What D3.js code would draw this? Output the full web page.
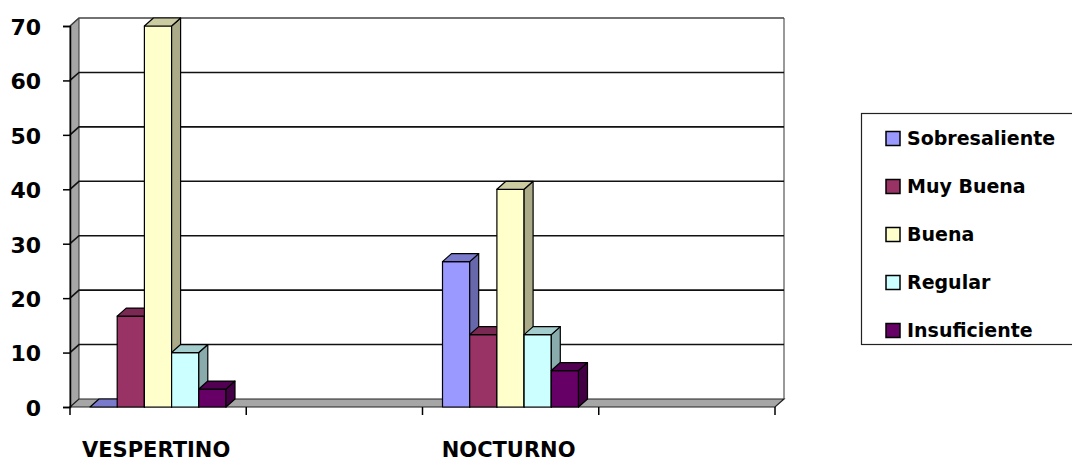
<!DOCTYPE html>
<html>
<head>
<meta charset="utf-8">
<script src="https://cdn.jsdelivr.net/npm/d3@7"></script>
<style>
  html, body { margin: 0; padding: 0; background: #fff; }
  svg { display: block; font-family: "DejaVu Sans", sans-serif; font-weight: bold; }
</style>
</head>
<body>
<svg id="chart" width="1072" height="463"></svg>
<script>
// ---- data ----
const categories = ["VESPERTINO", "", "NOCTURNO", ""];
const series = ["Sobresaliente", "Muy Buena", "Buena", "Regular", "Insuficiente"];
const vespertino = [0, 16.7, 70, 10, 3.3];
const nocturno = [26.7, 13.3, 40, 13.3, 6.7];
const yTicks = [0, 10, 20, 30, 40, 50, 60, 70];
const seriesColors = ["#9999FF", "#993366", "#FFFFCC", "#CCFFFF", "#660066"];

const groupValues = [vespertino, null, nocturno, null];

// ---- layout ----
const svg = d3.select("#chart");
const DX = 9, DY = 8;
const x = d3.scaleBand().domain(d3.range(categories.length)).range([70, 775]).padding(0);
const x1 = d3.scaleBand().domain(series).range([20, 156]).padding(0);
const y = d3.scaleLinear().domain([0, 70]).range([407, 26]);
const y0 = y(0);
const xL = x.range()[0], xR = x.range()[1];

function shade(c, k) {
  const r = d3.rgb(c);
  return d3.rgb(r.r * k, r.g * k, r.b * k).formatHex();
}

// back wall
svg.append("rect")
  .attr("x", xL + DX).attr("y", y(70) - DY)
  .attr("width", xR - xL).attr("height", y0 - y(70))
  .attr("fill", "#fff");
svg.append("line")
  .attr("x1", xR + DX).attr("x2", xR + DX)
  .attr("y1", y(70) - DY).attr("y2", y0 - DY)
  .attr("stroke", "#999").attr("stroke-width", 2);

// side wall
svg.append("path")
  .attr("d", `M${xL},${y0}L${xL},${y(70)}L${xL + DX},${y(70) - DY}L${xL + DX},${y0 - DY}Z`)
  .attr("fill", "#A6A6A6").attr("stroke", "#333").attr("stroke-width", 1);

// gridlines (back + side)
const grid = svg.append("g");
yTicks.filter(t => t > 0).forEach(t => {
  grid.append("path")
    .attr("d", `M${xL},${y(t)}L${xL + DX},${y(t) - DY}L${xR + DX},${y(t) - DY}`)
    .attr("fill", "none")
    .attr("stroke", t === 70 ? "#444" : "#111")
    .attr("stroke-width", 1.6);
});

// floor
svg.append("path")
  .attr("d", `M${xL},${y0}L${xR},${y0}L${xR + DX},${y0 - DY}L${xL + DX},${y0 - DY}Z`)
  .attr("fill", "#A6A6A6").attr("stroke", "#222").attr("stroke-width", 1.2);

// bars
const bars = svg.append("g");
groupValues.forEach((vals, gi) => {
  if (!vals) return;
  vals.forEach((v, si) => {
    const bx = x(gi) + x1(series[si]);
    const w = x1.bandwidth();
    const yt = y(v);
    const c = seriesColors[si];
    const g = bars.append("g").attr("stroke", "#000").attr("stroke-width", 1.2).attr("stroke-linejoin", "round");
    if (v > 0) {
      g.append("rect").attr("x", bx).attr("y", yt).attr("width", w).attr("height", y0 - yt).attr("fill", c);
      g.append("path")
        .attr("d", `M${bx + w},${yt}L${bx + w + DX},${yt - DY}L${bx + w + DX},${y0 - DY}L${bx + w},${y0}Z`)
        .attr("fill", shade(c, 0.67));
    }
    g.append("path")
      .attr("d", `M${bx},${yt}L${bx + DX},${yt - DY}L${bx + w + DX},${yt - DY}L${bx + w},${yt}Z`)
      .attr("fill", shade(c, 0.8));
  });
});

// y axis
const yAxis = svg.append("g")
  .attr("transform", `translate(${xL},0)`)
  .call(d3.axisLeft(y).tickValues(yTicks).tickSize(7).tickPadding(22).tickFormat(d3.format("d")));
yAxis.select(".domain").attr("stroke", "#000").attr("stroke-width", 1.5);
yAxis.selectAll(".tick line").attr("stroke", "#000").attr("stroke-width", 1.5);
yAxis.selectAll(".tick text")
  .attr("font-family", "DejaVu Sans").attr("font-weight", "bold")
  .attr("font-size", 22).attr("fill", "#000").attr("dy", "0.38em");

// x axis: boundary ticks + labels
const xAxis = svg.append("g").attr("transform", `translate(0,${y0})`);
const bounds = x.domain().map(d => x(d)).concat([xR]);
xAxis.selectAll("line.b").data(bounds).join("line")
  .attr("x1", d => d).attr("x2", d => d).attr("y1", 0).attr("y2", 8)
  .attr("stroke", "#000").attr("stroke-width", 1.5);
xAxis.selectAll("text").data(x.domain()).join("text")
  .attr("x", d => x(d) + x.bandwidth() / 2 - 2)
  .attr("y", 50)
  .attr("text-anchor", "middle")
  .attr("font-size", 21).attr("fill", "#000")
  .text(d => categories[d]);

// legend
const legend = svg.append("g");
legend.append("rect")
  .attr("x", 861.5).attr("y", 113.5).attr("width", 230).attr("height", 231)
  .attr("fill", "#fff").attr("stroke", "#222").attr("stroke-width", 1.2);
series.forEach((s, i) => {
  const cy = 138.5 + i * 48;
  legend.append("rect")
    .attr("x", 886).attr("y", cy - 7).attr("width", 14).attr("height", 14)
    .attr("fill", seriesColors[i]).attr("stroke", "#000").attr("stroke-width", 1.5);
  legend.append("text")
    .attr("x", 907).attr("y", cy).attr("dy", "0.36em")
    .attr("font-size", 19).attr("fill", "#000")
    .text(s);
});
</script>
</body>
</html>
